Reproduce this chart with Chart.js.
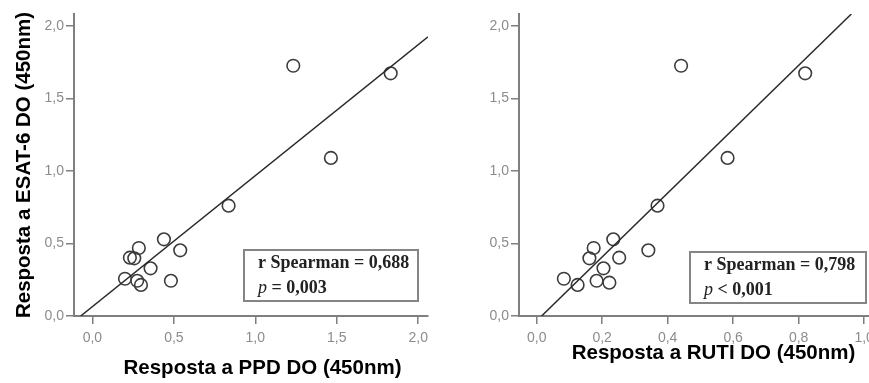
<!DOCTYPE html>
<html>
<head>
<meta charset="utf-8">
<script src="https://cdn.jsdelivr.net/npm/chart.js@4.4.1/dist/chart.umd.min.js"></script>
<style>
  html, body { margin: 0; padding: 0; background: #fff; overflow: hidden; }
  .panel { position: absolute; top: 0; width: 440px; height: 383px; }
  #left { left: 0; }
  #right { left: 440px; }
</style>
</head>
<body>
<div class="panel" id="left"><canvas id="chartPpd"></canvas></div>
<div class="panel" id="right"><canvas id="chartRuti"></canvas></div>
<script>
// Dados
var ppdX = [1.233, 1.831, 1.464, 0.836, 0.439, 0.539, 0.285, 0.230, 0.257, 0.357, 0.200, 0.275, 0.298, 0.482];
var esatY1 = [1.726, 1.674, 1.090, 0.761, 0.529, 0.453, 0.469, 0.402, 0.398, 0.329, 0.257, 0.243, 0.214, 0.243];

var rutiX = [0.441, 0.820, 0.583, 0.369, 0.234, 0.174, 0.341, 0.161, 0.252, 0.204, 0.083, 0.125, 0.183, 0.222];
var esatY2 = [1.726, 1.674, 1.090, 0.761, 0.529, 0.469, 0.453, 0.398, 0.402, 0.329, 0.257, 0.214, 0.243, 0.230];

// Retas de ajuste (extremos)
var fitPpdX = [-0.072, 2.06];
var fitPpdY = [0, 1.925];
var fitRutiX = [0.015, 0.961];
var fitRutiY = [0, 2.083];

var yTicks = [0, 0.5, 1.0, 1.5, 2.0];
var ppdTicks = [0, 0.5, 1.0, 1.5, 2.0];
var rutiTicks = [0, 0.2, 0.4, 0.6, 0.8, 1.0];

var statsPpd = ['r Spearman = 0,688', ' = 0,003'];
var statsRuti = ['r Spearman = 0,798', ' < 0,001'];

function toPoints(xs, ys) {
    return xs.map(function (x, i) { return { x: x, y: ys[i] }; });
}

function fmt(v) {
    return v.toFixed(1).replace('.', ',');
}

var axisColor = '#7f7f7f';

// Plugin para título do eixo X e caixa de estatística
var captions = {
    id: 'captions',
    afterDraw: function (chart, args, opts) {
        var ctx = chart.ctx;
        ctx.save();
        ctx.fillStyle = '#000';
        ctx.font = 'bold 20.5px "Liberation Sans", Arial, sans-serif';
        ctx.textAlign = 'center';
        ctx.textBaseline = 'alphabetic';
        ctx.fillText(opts.xTitle, opts.titleX, opts.titleY);

        var b = opts.box;
        ctx.strokeStyle = '#858585';
        ctx.lineWidth = 2;
        ctx.strokeRect(b.left, b.top, b.width, b.height);

        ctx.textAlign = 'left';
        ctx.fillStyle = '#222';
        ctx.font = 'bold 18px "Liberation Serif", "Times New Roman", serif';
        ctx.fillText(opts.lines[0], b.left + 14, b.top + 18);
        ctx.font = 'italic 18px "Liberation Serif", "Times New Roman", serif';
        ctx.fillText('p', b.left + 14, b.top + 43);
        var w = ctx.measureText('p').width;
        ctx.font = 'bold 18px "Liberation Serif", "Times New Roman", serif';
        ctx.fillText(opts.lines[1], b.left + 14 + w, b.top + 43);
        ctx.restore();
    }
};

function makeChart(id, xs, ys, fx, fy, xTickVals, xMin, xMax, yWidth, showYTitle, capOpts, padRight) {
    var ctx = document.getElementById(id).getContext('2d');
    return new Chart(ctx, {
        type: 'scatter',
        data: {
            datasets: [
                {
                    type: 'line',
                    data: toPoints(fx, fy),
                    borderColor: '#2a2a2a',
                    borderWidth: 1.5,
                    pointRadius: 0,
                    fill: false
                },
                {
                    data: toPoints(xs, ys),
                    pointRadius: 6.3,
                    pointStyle: 'circle',
                    borderWidth: 1.6,
                    borderColor: '#3c3c3c',
                    backgroundColor: 'rgba(0,0,0,0)'
                }
            ]
        },
        options: {
            responsive: true,
            maintainAspectRatio: false,
            animation: false,
            layout: { padding: { top: 14, left: 0, right: padRight, bottom: 0 } },
            plugins: {
                legend: { display: false },
                tooltip: { enabled: false },
                captions: capOpts
            },
            scales: {
                x: {
                    type: 'linear',
                    min: xMin,
                    max: xMax,
                    afterFit: function (scale) { scale.height = 67; },
                    afterBuildTicks: function (scale) {
                        scale.ticks = xTickVals.map(function (v) { return { value: v }; });
                    },
                    grid: { drawOnChartArea: false, drawTicks: true, tickLength: 8, color: axisColor, lineWidth: 1.5 },
                    border: { display: true, color: axisColor, width: 2 },
                    ticks: {
                        padding: 6,
                        color: '#8c8c8c',
                        font: { family: '"Liberation Sans", Arial, sans-serif', size: 14 },
                        maxRotation: 0,
                        autoSkip: false,
                        callback: function (v) { return fmt(v); }
                    }
                },
                y: {
                    type: 'linear',
                    min: 0,
                    max: 2.083,
                    afterFit: function (scale) { scale.width = yWidth; },
                    afterBuildTicks: function (scale) {
                        scale.ticks = yTicks.map(function (v) { return { value: v }; });
                    },
                    grid: { drawOnChartArea: false, drawTicks: true, tickLength: 8, color: axisColor, lineWidth: 1.5 },
                    border: { display: true, color: axisColor, width: 2 },
                    ticks: {
                        padding: 2,
                        color: '#8c8c8c',
                        font: { family: '"Liberation Sans", Arial, sans-serif', size: 14 },
                        callback: function (v) { return fmt(v); }
                    },
                    title: {
                        display: showYTitle,
                        text: 'Resposta a ESAT-6 DO (450nm)',
                        color: '#000',
                        font: { family: '"Liberation Sans", Arial, sans-serif', size: 20.5, weight: 'bold' },
                        padding: { top: 12, bottom: 0 }
                    }
                }
            }
        },
        plugins: [captions]
    });
}

makeChart('chartPpd', ppdX, esatY1, fitPpdX, fitPpdY, ppdTicks, -0.113, 2.06, 74, true, {
    xTitle: 'Resposta a PPD DO (450nm)',
    titleX: 262.5,
    titleY: 374,
    box: { left: 244, top: 250, width: 174, height: 51 },
    lines: statsPpd
}, 12);

makeChart('chartRuti', rutiX, esatY2, fitRutiX, fitRutiY, rutiTicks, -0.054, 1.0205, 79, false, {
    xTitle: 'Resposta a RUTI DO (450nm)',
    titleX: 273.5,
    titleY: 359,
    box: { left: 250, top: 252, width: 176, height: 51 },
    lines: statsRuti
}, 6);
</script>
</body>
</html>
